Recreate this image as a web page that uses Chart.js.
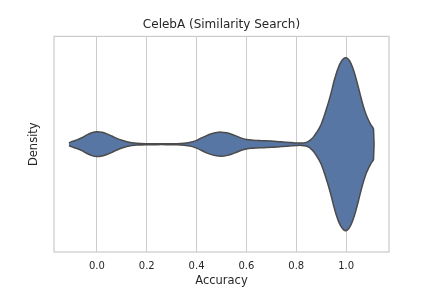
<!DOCTYPE html>
<html>
<head>
<meta charset="utf-8">
<script src="https://cdn.jsdelivr.net/npm/chart.js@4"></script>
<style>
  html, body { margin: 0; padding: 0; background: #fff; }
  #wrap { width: 432px; height: 288px; }
</style>
</head>
<body>
<div id="wrap"><canvas id="chart" width="432" height="288"></canvas></div>
<script>
// accuracy grid along the violin and the half width (kde density)
const accuracy = [-0.112, -0.10, -0.08, -0.06, -0.04, -0.02, 0.00, 0.02, 0.04, 0.06, 0.08, 0.10,
  0.12, 0.14, 0.16, 0.20, 0.24, 0.28, 0.32, 0.35, 0.38, 0.40, 0.42, 0.44, 0.46, 0.48, 0.50,
  0.52, 0.54, 0.56, 0.58, 0.60, 0.62, 0.64, 0.66, 0.68, 0.70, 0.72, 0.74, 0.76, 0.78, 0.80,
  0.82, 0.84, 0.85, 0.86, 0.87, 0.88, 0.89, 0.90, 0.91, 0.92, 0.93, 0.94, 0.95, 0.96, 0.97,
  0.98, 0.99, 1.00, 1.01, 1.02, 1.03, 1.04, 1.05, 1.06, 1.07, 1.08, 1.09, 1.10, 1.11];
const density = [0.012, 0.025, 0.040, 0.060, 0.086, 0.106, 0.115, 0.110, 0.096, 0.076, 0.054, 0.036,
  0.022, 0.013, 0.008, 0.005, 0.004, 0.004, 0.005, 0.009, 0.020, 0.036, 0.058, 0.080, 0.097, 0.108, 0.112,
  0.106, 0.093, 0.075, 0.056, 0.044, 0.038, 0.035, 0.033, 0.031, 0.029, 0.026, 0.022, 0.018, 0.015, 0.012,
  0.011, 0.017, 0.028, 0.046, 0.070, 0.104, 0.140, 0.185, 0.248, 0.320, 0.395, 0.478, 0.572, 0.652, 0.718,
  0.765, 0.795, 0.802, 0.785, 0.745, 0.685, 0.608, 0.520, 0.428, 0.345, 0.275, 0.222, 0.178, 0.138];
const medianAcc = [1.0];
const accTicks = [0.0, 0.2, 0.4, 0.6, 0.8, 1.0];

const fillColor = "#5876a3";
const edgeColor = "#4b4b4b";
const gridColor = "#cccccc";
const textColor = "#262626";

// outline: top side left -> right, then bottom side back
const outline = accuracy.map((a, i) => ({ x: a, y: density[i] }))
  .concat(accuracy.map((a, i) => ({ x: a, y: -density[i] })).reverse());

const frame = {
  id: "frame",
  afterDraw(chart) {
    const { ctx, chartArea: a } = chart;
    ctx.save();
    ctx.strokeStyle = gridColor;
    ctx.lineWidth = 1.25;
    ctx.strokeRect(a.left, a.top, a.right - a.left, a.bottom - a.top);
    ctx.restore();
  },
};

new Chart(document.getElementById("chart"), {
  type: "line",
  data: {
    datasets: [
      {
        data: outline,
        fill: "shape",
        backgroundColor: fillColor,
        borderColor: edgeColor,
        borderWidth: 1.5,
        tension: 0.35,
        pointRadius: 0,
      },
      {
        data: medianAcc.map((m) => ({ x: m, y: 0 })),
        showLine: false,
        pointRadius: 1.8,
        pointBackgroundColor: "#ffffff",
        pointBorderColor: edgeColor,
        pointBorderWidth: 0.5,
      },
    ],
  },
  options: {
    responsive: false,
    animation: false,
    layout: { padding: { right: 43 } },
    plugins: {
      legend: { display: false },
      tooltip: { enabled: false },
      title: {
        display: true,
        fullSize: false,
        text: "CelebA (Similarity Search)",
        color: textColor,
        font: { family: "DejaVu Sans", size: 12, weight: "normal" },
        padding: { top: 18, bottom: 4 },
      },
    },
    scales: {
      x: {
        type: "linear",
        min: -0.172,
        max: 1.172,
        afterFit: (s) => { s.height = 36; },
        afterBuildTicks: (s) => { s.ticks = accTicks.map((v) => ({ value: v })); },
        grid: { color: gridColor, lineWidth: 1, drawTicks: false },
        border: { display: false },
        ticks: {
          color: textColor,
          padding: 8,
          font: { family: "DejaVu Sans", size: 10 },
          callback: (v) => v.toFixed(1),
        },
        title: {
          display: true,
          text: "Accuracy",
          color: textColor,
          font: { family: "DejaVu Sans", size: 11.5 },
          padding: { top: 0, bottom: 0 },
        },
      },
      y: {
        min: -1,
        max: 1,
        afterFit: (s) => { s.width = 54; },
        grid: { display: false },
        border: { display: false },
        ticks: { display: false },
        title: {
          display: true,
          text: "Density",
          color: textColor,
          font: { family: "DejaVu Sans", size: 11.5 },
          padding: { top: 27, bottom: 0 },
        },
      },
    },
  },
  plugins: [frame],
});
</script>
</body>
</html>
